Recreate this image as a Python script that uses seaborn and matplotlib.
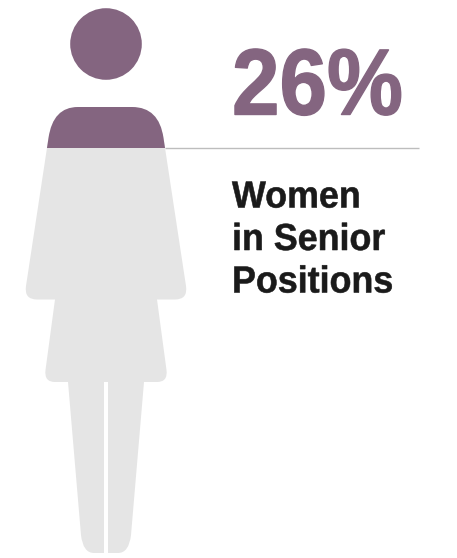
"""
Pictogram: share of women in senior positions
"""
import matplotlib
matplotlib.use("Agg")
import matplotlib.pyplot as plt
import matplotlib.patheffects as pe
from matplotlib.patches import Circle, PathPatch
from matplotlib.path import Path
from matplotlib.transforms import Affine2D
import seaborn as sns

share = [26]
share_label = "26%"
caption = ["Women", "in Senior", "Positions"]
category = ["Women"]

purple = "#846580"
light = "#e5e5e5"
ink = "#1a1a1a"


class TallBold(pe.AbstractPathEffect):
    # the original type is a bit heavier and taller than Liberation Sans Bold
    def __init__(self, stretch, lw):
        super().__init__()
        self.stretch = stretch
        self.lw = lw

    def draw_path(self, renderer, gc, tpath, affine, rgbFace=None):
        gc0 = renderer.new_gc()
        gc0.copy_properties(gc)
        gc0.set_linewidth(self.lw)
        gc0.set_foreground(rgbFace)
        renderer.draw_path(gc0, tpath, Affine2D().scale(1, self.stretch) + affine, rgbFace)
        gc0.restore()


sns.set_style("white")
plt.rcParams["font.family"] = ["Liberation Sans", "DejaVu Sans"]

W, H = 457, 558
fig = plt.figure(figsize=(W / 100, H / 100), dpi=100)
ax = fig.add_axes([0, 0, 1, 1])
ax.set_xlim(0, W)
ax.set_ylim(H, 0)
ax.axis("off")

# figure outline in canvas pixels, "c" marks the control point of a rounded corner
outline = [
    (78, 107), (132, 107), ("c", 159, 107), (163.5, 138),
    (186, 286), ("c", 188, 299.5), (175, 299.5),
    (157, 299.5), (166.5, 370), ("c", 168, 382), (157, 382),
    (144, 382), (131, 535), ("c", 129, 553), (118, 553),
    (108, 553), (108, 382), (104, 382), (104, 553),
    (94, 553), ("c", 83, 553), (81, 535), (68, 382),
    (55, 382), ("c", 44, 382), (45.5, 370), (55, 299.5),
    (37, 299.5), ("c", 24, 299.5), (26, 286), (48.5, 138),
    ("c", 53, 107), (78, 107),
]
verts, codes = [], []
after_ctrl = False
for i, p in enumerate(outline):
    if p[0] == "c":
        verts.append(p[1:])
        codes.append(Path.CURVE3)
        after_ctrl = True
    else:
        verts.append(p)
        if i == 0:
            codes.append(Path.MOVETO)
        elif after_ctrl:
            codes.append(Path.CURVE3)
        else:
            codes.append(Path.LINETO)
        after_ctrl = False
verts.append((78, 107))
codes.append(Path.CLOSEPOLY)
body_path = Path(verts, codes)

ax.add_patch(PathPatch(body_path, facecolor=light, edgecolor="none"))

# the filled part is a bar running down from the top of the figure
top, bottom = 8, 548
bar_ax = fig.add_axes([0, 1 - bottom / H, 1, (bottom - top) / H])
sns.barplot(x=category, y=share, color=purple, saturation=1, width=1, ax=bar_ax)
bar_ax.set_ylim(100, 0)
bar_ax.set_xlim(-0.5, 0.5)
bar_ax.axis("off")
bar_ax.patch.set_alpha(0)
bar = bar_ax.patches[0]
bar.set_edgecolor("none")
bar.set_clip_path(PathPatch(body_path, transform=ax.transData))

ax.add_patch(Circle((106, 44), 35.8, facecolor=purple, edgecolor="none"))

level = top + share[0] / 100 * (bottom - top)
ax.plot([164.5, 419], [level, level], color="#bdbdbd", lw=1, solid_capstyle="butt")

big = ax.text(232, 114.5, share_label, color=purple, fontsize=61.5, fontweight="bold",
              ha="left", va="baseline")
big.set_path_effects([TallBold(1.1, 1.0)])
for line, y in zip(caption, [207.5, 250, 292.5]):
    t = ax.text(232, y, line, color=ink, fontsize=25.8, fontweight="bold",
                ha="left", va="baseline")
    t.set_path_effects([TallBold(1.05, 0.4)])

plt.savefig("out.png", dpi=100)
